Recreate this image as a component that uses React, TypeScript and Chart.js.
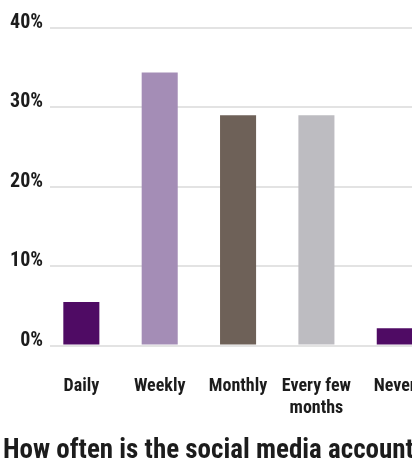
import React, { useEffect, useRef } from "react";
import { Chart, registerables } from "chart.js";

Chart.register(...registerables);

const categories = ["Daily", "Weekly", "Monthly", "Every few months", "Never"];
const tickLabels: (string | string[])[] = ["Daily", "Weekly", "Monthly", ["Every few", "months"], "Never"];
const values = [5.5, 34.4, 29.0, 29.0, 2.2];
const barColors = ["#4f0b64", "#a48db6", "#6e6158", "#bdbcc1", "#4f0b64"];
const yTicks = [0, 10, 20, 30, 40];
const titleText = "How often is the social media account";

const FONT = "'Roboto Condensed', 'Open Sans', sans-serif";

export default function App() {
  const ref = useRef<HTMLCanvasElement | null>(null);

  useEffect(() => {
    document.body.style.margin = "0";
    document.body.style.overflow = "hidden";
    const canvas = ref.current;
    if (!canvas) return;
    const chart = new Chart(canvas, {
      type: "bar",
      data: {
        datasets: [
          {
            label: "Share",
            data: values.map((v, i) => ({ x: i, y: v })),
            backgroundColor: barColors,
            borderWidth: 0,
            barPercentage: 0.46,
            categoryPercentage: 1,
          },
        ],
      },
      options: {
        responsive: false,
        animation: false,
        devicePixelRatio: 1,
        layout: { padding: { left: 3, right: 10, top: 28, bottom: 0 } },
        plugins: {
          legend: { display: false },
          tooltip: { enabled: false },
          title: {
            display: true,
            text: titleText,
            position: "bottom",
            align: "start",
            color: "#1c1c1c",
            font: { family: FONT, size: 27, weight: "bold" },
            padding: { top: 16, bottom: 1 },
          },
        },
        scales: {
          x: {
            type: "linear",
            offset: false,
            min: -0.4,
            max: 4.96,
            grid: { display: false, drawTicks: false, offset: false },
            border: { display: false },
            afterBuildTicks: (scale: any) => {
              scale.ticks = categories.map((_, i) => ({ value: i }));
            },
            afterFit: (scale: any) => {
              scale.paddingLeft = 0;
              scale.paddingRight = 0;
              scale.height = 73;
            },
            ticks: {
              padding: 30,
              color: "#1c1c1c",
              maxRotation: 0,
              autoSkip: false,
              font: { family: FONT, size: 18, weight: "bold" },
              callback: (value: any) => {
                const i = Math.round(Number(value));
                return tickLabels[i] ?? "";
              },
            },
          },
          y: {
            min: 0,
            max: 40,
            afterFit: (scale: any) => {
              scale.width = 47;
              scale.paddingTop = 0;
              scale.paddingBottom = 0;
            },
            afterBuildTicks: (scale: any) => {
              scale.ticks = yTicks.map((v) => ({ value: v }));
            },
            grid: { color: "#e3e3e3", lineWidth: 2, drawTicks: false },
            border: { display: false },
            ticks: {
              padding: 7,
              labelOffset: -5,
              color: "#1c1c1c",
              font: { family: FONT, size: 20, weight: "bold" },
              callback: (value: any) => `${value}%`,
            },
          },
        },
      },
    });
    return () => chart.destroy();
  }, []);

  return (
    <div style={{ width: 412, height: 468, overflow: "hidden", position: "relative", background: "#fff" }}>
      <canvas ref={ref} width={480} height={468} style={{ display: "block" }} />
    </div>
  );
}
